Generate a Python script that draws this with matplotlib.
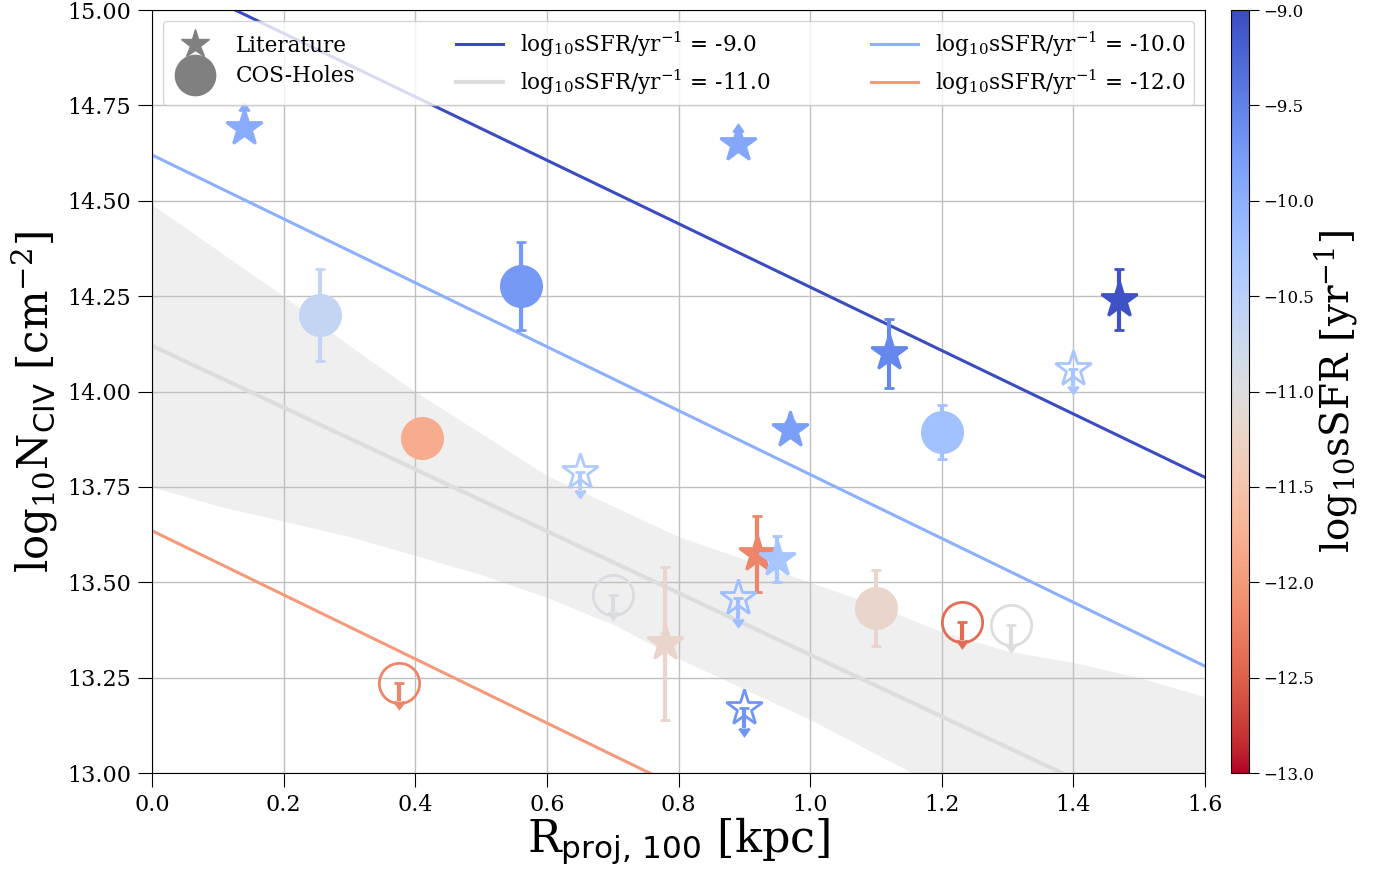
import matplotlib
import matplotlib.pyplot as plt
import numpy as np
from matplotlib.lines import Line2D

plt.rcParams['font.family'] = 'serif'
plt.rcParams['font.serif'] = ['DejaVu Serif']
plt.rcParams['mathtext.fontset'] = 'dejavuserif'

# literature sightlines (limit flag: 0 detection, 1 upper limit, -1 lower limit)
lit_r = [0.14, 0.89, 1.12, 1.47, 1.40, 0.97, 0.65, 0.92, 0.95, 0.89, 0.78, 0.90]
lit_n = [14.69, 14.65, 14.10, 14.24, 14.06, 13.90, 13.79, 13.575, 13.56, 13.46, 13.34, 13.17]
lit_err = [0.045, 0.029, 0.09, 0.08, 0.045, 0.018, 0.047, 0.10, 0.06, 0.057, 0.20, 0.052]
lit_ssfr = [-9.95, -9.9, -9.55, -9.05, -10.3, -9.8, -10.4, -12.2, -10.3, -10.2, -11.2, -9.7]
lit_lim = [-1, -1, 0, 0, 1, -1, 1, 0, 0, 1, 0, 1]

# COS-Holes sightlines
cos_r = [0.255, 0.56, 0.41, 1.20, 0.70, 1.10, 1.23, 1.305, 0.375]
cos_n = [14.20, 14.277, 13.878, 13.894, 13.467, 13.433, 13.396, 13.388, 13.236]
cos_err = [0.12, 0.115, 0.04, 0.07, 0.045, 0.10, 0.048, 0.05, 0.047]
cos_ssfr = [-10.65, -9.75, -11.8, -10.25, -10.95, -11.2, -12.4, -11.0, -12.2]
cos_lim = [0, 0, 0, 0, 1, 0, 1, 1, 1]

# model lines, values at R = 0 and R = 1.6
line_ssfr = [-9.0, -11.0, -10.0, -12.0]
line_n0 = [15.105, 14.12, 14.62, 13.635]
line_n1 = [13.775, 12.824, 13.28, 12.291]
line_r = [0.0, 1.6]

# scatter band round the -11 line
band_r = [0.0, 0.1, 0.2, 0.3, 0.4, 0.5, 0.6, 0.7, 0.8, 0.9, 1.0, 1.1, 1.2, 1.3, 1.4, 1.5, 1.6]
band_hi = [14.49, 14.37, 14.25, 14.12, 14.0, 13.89, 13.78, 13.70, 13.62, 13.56, 13.50,
           13.44, 13.37, 13.32, 13.29, 13.25, 13.20]
band_lo = [13.75, 13.70, 13.66, 13.62, 13.57, 13.52, 13.46, 13.39, 13.30, 13.22, 13.14,
           13.05, 12.96, 12.88, 12.80, 12.72, 12.64]

cmap = plt.get_cmap('coolwarm_r')
norm = matplotlib.colors.Normalize(vmin=-13, vmax=-9)

fig = plt.figure(figsize=(13.9, 8.71), dpi=100)
ax = fig.add_axes([0.1094, 0.1125, 0.7575, 0.876])
cax = fig.add_axes([0.8856, 0.1125, 0.013, 0.876])

ax.fill_between(band_r, band_lo, band_hi, color='lightgray', alpha=0.35, lw=0)

line_handles = []
for s, n0, n1 in zip(line_ssfr, line_n0, line_n1):
    lw = 3 if s == -11.0 else 2.2
    h, = ax.plot(line_r, [n0, n1], color=cmap(norm(s)), lw=lw,
                 label=r'log$_{10}$sSFR/yr$^{-1}$ = ' + '%.1f' % s)
    line_handles.append(h)


def draw(rs, ns, errs, ssfrs, lims, marker, ms):
    for r, n, e, s, lim in zip(rs, ns, errs, ssfrs, lims):
        c = cmap(norm(s))
        fc = 'none' if lim == 1 else c
        ax.errorbar(r, n, yerr=e, uplims=(lim == 1), lolims=(lim == -1),
                    marker=marker, ms=ms, mfc=fc, mec=c, mew=2, color=c,
                    ecolor=c, elinewidth=3, capsize=3.5, capthick=2)


draw(cos_r, cos_n, cos_err, cos_ssfr, cos_lim, 'o', 29)
draw(lit_r, lit_n, lit_err, lit_ssfr, lit_lim, '*', 27)

ax.set_xlim(0, 1.6)
ax.set_ylim(13, 15)
ax.set_xticks(np.arange(0, 1.61, 0.2))
ax.set_yticks(np.arange(13, 15.01, 0.25))
ax.grid(True, color='#c0c0c0', lw=1)
ax.tick_params(labelsize=16, length=10, pad=5)
ax.set_xlabel(r'R$_{\mathsf{proj,}\,\mathsf{100}}$ [kpc]', fontsize=32, labelpad=0)
ax.set_ylabel(r'log$_{10}$N$_{\mathsf{CIV}}$ [cm$^{-2}$]', fontsize=30)
ax.yaxis.set_label_coords(-0.087, 0.486)

lit_h = Line2D([], [], marker='*', ms=21, color='gray', ls='none')
cos_h = Line2D([], [], marker='o', ms=29, color='gray', ls='none')
handles = [lit_h, cos_h] + line_handles
labels = ['Literature', 'COS-Holes'] + [h.get_label() for h in line_handles]
ax.legend(handles, labels, loc='upper left', mode='expand', ncol=3, fontsize=15.5,
          handlelength=2.2, labelspacing=0.4)

sm = matplotlib.cm.ScalarMappable(norm=norm, cmap=cmap)
cb = fig.colorbar(sm, cax=cax, ticks=np.arange(-13, -8.9, 0.5))
cb.ax.yaxis.set_major_formatter(matplotlib.ticker.FuncFormatter(
    lambda v, p: ('%.1f' % v).replace('-', '\u2212')))
cb.ax.tick_params(labelsize=12, length=7)
cb.set_label(r'log$_{10}$sSFR [yr$^{-1}$]', fontsize=28, labelpad=-2)

plt.savefig('out.png', dpi=100)
